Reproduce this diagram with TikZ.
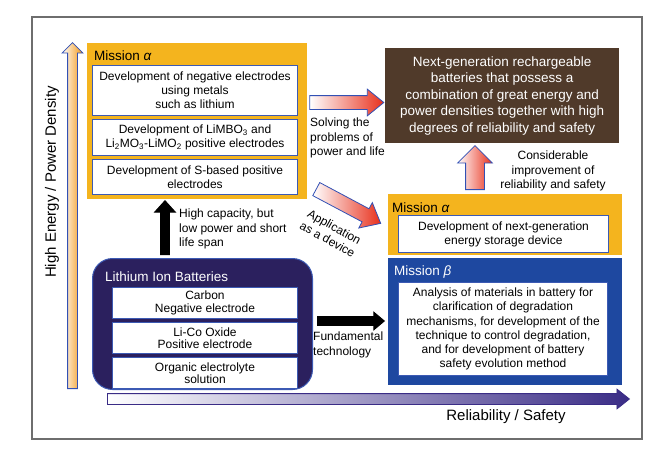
\documentclass[tikz,border=0pt]{standalone}
\usepackage{fontspec}
\setmainfont{Liberation Sans}
\usetikzlibrary{arrows.meta, positioning, calc, shapes.arrows}

\definecolor{missionorange}{RGB}{244,180,30}
\definecolor{missionblue}{RGB}{30,72,160}
\definecolor{boxblue}{RGB}{60,90,180}
\definecolor{arrowblue}{RGB}{50,80,180}
\definecolor{arrowred}{RGB}{232,48,28}
\definecolor{liionpurple}{RGB}{43,32,94}
\definecolor{soilbrown}{RGB}{80,58,42}
\definecolor{axisorange}{RGB}{242,150,20}
\definecolor{axispurple}{RGB}{58,44,134}
\definecolor{framegray}{RGB}{110,110,110}

\begin{document}
\begin{tikzpicture}[
  x=1pt, y=-1pt,
  bodytext/.style = {font=\fontsize{12}{14.2}\selectfont},
  inbox/.style = {
    draw=boxblue,
    line width=1pt,
    fill=white,
    align=center,
    inner sep=0pt,
    bodytext
  },
  panel/.style = {inner sep=0pt, anchor=north west},
  missiontitle/.style = {
    anchor=base west,
    inner sep=0pt,
    font=\fontsize{13.5}{16}\selectfont
  },
  note/.style = {inner sep=0pt, bodytext},
  fatarrow/.style = {
    single arrow,
    draw=arrowblue,
    line width=0.8pt,
    single arrow head indent=0pt,
    inner xsep=0pt,
    anchor=tail
  },
  % shading follows the node's own frame: left = tail, right = tip
  redarrow/.style = {fatarrow, left color=white, right color=arrowred},
  blackarrow/.style = {fatarrow, draw=black, fill=black}
]

\useasboundingbox (0,0) rectangle (672,469);

% ======================================================
% FRAME AND AXES
% ======================================================

\node[panel, draw=framegray, line width=1.5pt,
  minimum width=610pt, minimum height=422pt] (frame) at (31,16) {};

\node[fatarrow, rotate=90, left color=white, right color=axisorange,
  minimum height=346pt, inner ysep=4.5pt,
  single arrow head extend=5.5pt, single arrow tip angle=90] (energyaxis) at (72.5,389) {};
\node[rotate=90, inner sep=0pt, font=\fontsize{15}{18}\selectfont]
  (energylabel) at (52,182) {High Energy / Power Density};

\node[fatarrow, draw=axispurple, left color=white, right color=axispurple,
  minimum height=522pt, inner ysep=5pt,
  single arrow head extend=4.5pt, single arrow tip angle=77] (safetyaxis) at (107,399) {};
\node[inner sep=0pt, font=\fontsize{15}{18}\selectfont]
  (safetylabel) at (506,417) {Reliability / Safety};

% ======================================================
% MISSION ALPHA (materials)
% ======================================================

\node[panel, fill=missionorange, minimum width=220pt, minimum height=156pt] (mtop) at (87,43) {};
\node[missiontitle] (mtoptitle) at (94,60) {Mission \textit{α}};

\node[inbox, anchor=north west, minimum width=205pt, minimum height=50pt] (negel) at (92,65) {
  Development of negative electrodes\\
  using metals\\
  such as lithium
};
\node[inbox, minimum width=205pt, minimum height=36pt, below=3pt of negel] (posel) {
  Development of LiMBO\textsubscript{3} and\\
  Li\textsubscript{2}MO\textsubscript{3}-LiMO\textsubscript{2} positive electrodes
};
\node[inbox, minimum width=205pt, minimum height=35pt, below=3pt of posel] (sel) {
  Development of S-based positive\\
  electrodes
};

% ======================================================
% LITHIUM ION BATTERIES
% ======================================================

\node[panel, fill=liionpurple, draw=boxblue, line width=1pt, rounded corners=20pt,
  minimum width=220pt, minimum height=131pt] (libox) at (92,258) {};
\node[missiontitle, text=white] (libtitle) at (105,281) {Lithium Ion Batteries};

\node[inbox, anchor=north west, minimum width=185pt, minimum height=31pt,
  font=\fontsize{12}{12.5}\selectfont] (carbon) at (112,287) {
  Carbon\\
  Negative electrode
};
\node[inbox, minimum width=185pt, minimum height=31pt, below=3pt of carbon,
  font=\fontsize{12}{12.5}\selectfont] (licoo) {
  Li-Co Oxide\\
  Positive electrode
};
\node[inbox, minimum width=185pt, minimum height=31pt, below=3pt of licoo,
  font=\fontsize{12}{12.5}\selectfont] (electrolyte) {
  Organic electrolyte\\
  solution
};

% ======================================================
% GOAL (next-generation batteries)
% ======================================================

\node[panel, fill=soilbrown, minimum width=234pt, minimum height=95pt] (nextgen) at (385,48) {};
\node[text=white, align=center, inner sep=0pt, font=\fontsize{13.5}{16.5}\selectfont]
  (nextgentext) at (nextgen.center) {
  Next-generation rechargeable\\
  batteries that possess a\\
  combination of great energy and\\
  power densities together with high\\
  degrees of reliability and safety
};

% ======================================================
% MISSION ALPHA (device) AND MISSION BETA
% ======================================================

\node[panel, fill=missionorange, minimum width=234pt, minimum height=61pt] (mlow) at (388,194) {};
\node[missiontitle] (mlowtitle) at (392,212) {Mission \textit{α}};
\node[inbox, anchor=north west, minimum width=210pt, minimum height=37pt] (device) at (398,215) {
  Development of next-generation\\
  energy storage device
};

\node[panel, fill=missionblue, minimum width=234pt, minimum height=127pt] (mbeta) at (388,258) {};
\node[missiontitle, text=white] (mbetatitle) at (394,275) {Mission \textit{β}};
\node[inbox, anchor=north west, minimum width=209pt, minimum height=93pt] (analysis) at (398,282) {
  Analysis of materials in battery for\\
  clarification of degradation\\
  mechanisms, for development of the\\
  technique to control degradation,\\
  and for development of battery\\
  safety evolution method
};

% ======================================================
% BLOCK ARROWS
% ======================================================

\node[redarrow, minimum height=74pt, inner ysep=6.5pt,
  single arrow head extend=6.5pt, single arrow tip angle=78]
  (solvearrow) at ($(mtop.east |- 0,102.5)+(2,0)$) {};
\node[note, anchor=north west, align=left] (solvetext) at (310,118) {
  Solving the\\
  problems of\\
  power and life
};

\node[redarrow, rotate=-28, minimum height=73pt, inner ysep=7pt,
  single arrow head extend=7pt, single arrow tip angle=80]
  (devicearrow) at ($(mtop.south east)+(8.5,-10.5)$) {};
\node[note, rotate=-29, align=center] (devicetext) at (331,233) {
  Application\\
  as a device
};

\node[redarrow, rotate=90, minimum height=44pt, inner ysep=9pt,
  single arrow head extend=8pt, single arrow tip angle=90]
  (improvearrow) at ($(mlow.north -| 475,0)+(0,-4)$) {};
\node[note, anchor=north, align=center] (improvetext) at (553,151) {
  Considerable\\
  improvement of\\
  reliability and safety
};

\node[blackarrow, rotate=90, minimum height=54pt, inner ysep=4pt,
  single arrow head extend=6pt, single arrow tip angle=84]
  (capacityarrow) at ($(libox.north -| 165,0)+(0,-3)$) {};
\node[note, anchor=north west, align=left] (capacitytext) at (179,209) {
  High capacity, but\\
  low power and short\\
  life span
};

\node[blackarrow, minimum height=67pt, inner ysep=4pt,
  single arrow head extend=4.5pt, single arrow tip angle=80]
  (fundarrow) at ($(libox.east |- 0,321)+(4,0)$) {};
\node[note, anchor=north west, align=left] (fundtext) at (313,332) {
  Fundamental\\
  technology
};

\end{tikzpicture}
\end{document}
